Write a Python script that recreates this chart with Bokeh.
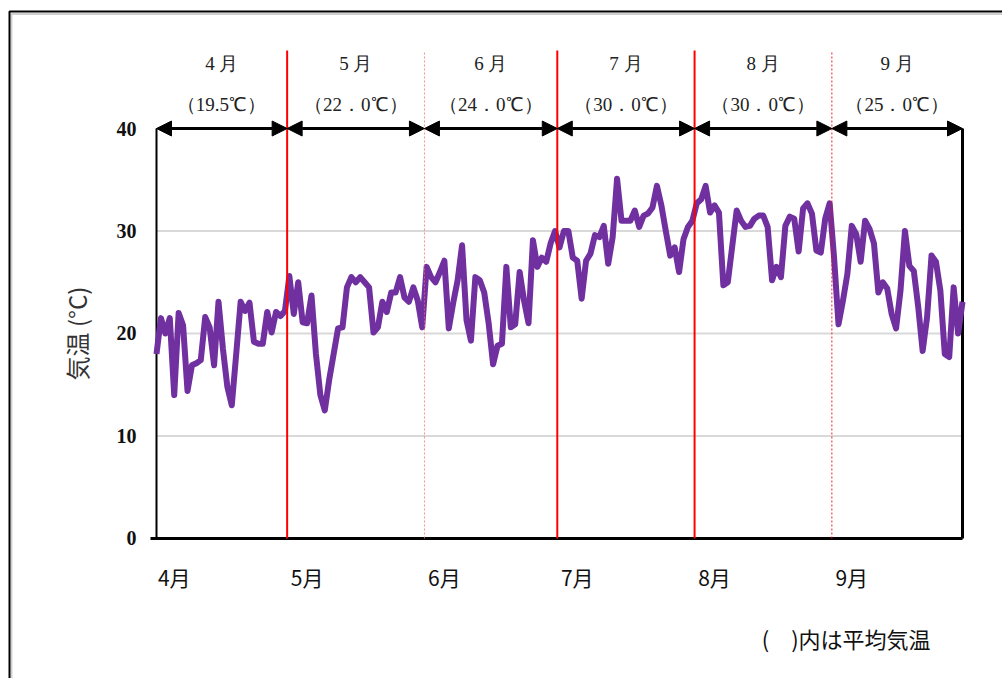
import math
from bokeh.plotting import figure
from bokeh.models import (Range1d, FixedTicker, ColumnDataSource, Arrow, NormalHead,
                          Label, BoxAnnotation)
from bokeh.core.properties import value
from bokeh.embed import file_html
from bokeh.resources import INLINE

# ---- data (daily temperature, Apr 1 - Sep 30) ----
apr = [18.0, 21.5, 20.0, 21.5, 14.0, 22.0, 20.8, 14.4, 16.9, 17.1, 17.4, 21.6, 20.6, 16.9, 23.1,
       18.5, 14.8, 13.0, 18.0, 23.1, 22.2, 23.0, 19.2, 19.0, 19.0, 22.1, 20.1, 22.1, 21.7, 22.2]
may = [25.6, 21.9, 25.0, 21.1, 21.0, 23.7, 18.0, 14.0, 12.5, 15.5, 18.0, 20.5, 20.6, 24.5, 25.5,
       25.0, 25.5, 25.0, 24.5, 20.1, 20.6, 23.1, 22.1, 24.0, 24.0, 25.5, 23.5, 23.1, 24.5, 23.2, 20.6]
jun = [26.5, 25.5, 25.0, 26.0, 27.1, 20.5, 23.0, 25.2, 28.6, 21.3, 19.3, 25.5, 25.2, 24.0, 21.0,
       17.0, 18.8, 19.0, 26.5, 20.6, 20.9, 26.0, 23.2, 21.0, 29.1, 26.5, 27.4, 27.0, 28.8, 30.0]
jul = [28.4, 30.0, 30.0, 27.4, 27.1, 23.4, 27.1, 27.8, 29.6, 29.4, 30.5, 26.8, 29.4, 35.1, 31.0,
       31.0, 31.0, 32.0, 30.4, 31.5, 31.7, 32.3, 34.4, 32.5, 30.0, 27.6, 28.4, 26.0, 29.2, 30.4, 31.0]
aug = [32.7, 33.1, 34.4, 31.8, 32.5, 31.8, 24.7, 25.0, 28.5, 32.0, 31.0, 30.4, 30.5, 31.2, 31.5,
       31.5, 30.4, 25.2, 26.5, 25.5, 30.5, 31.4, 31.2, 28.0, 32.2, 32.7, 31.7, 28.1, 27.9, 31.2, 32.7]
sep = [27.4, 20.9, 23.2, 25.8, 30.5, 29.7, 27.0, 31.0, 30.2, 28.8, 24.0, 25.0, 24.4, 21.9, 20.5,
       24.2, 30.0, 26.6, 26.1, 22.6, 18.3, 21.6, 27.6, 27.0, 24.2, 18.0, 17.7, 24.5, 20.0, 23.1]

month_ticks = ["4月", "5月", "6月", "7月", "8月", "9月"]
month_titles = ["4 月", "5 月", "6 月", "7 月", "8 月", "9 月"]
avg_temps = [19.5, 22.0, 24.0, 30.0, 30.0, 25.0]
avg_labels = ["（19.5℃）", "（22．0℃）", "（24．0℃）", "（30．0℃）", "（30．0℃）", "（25．0℃）"]
y_ticks = [0, 10, 20, 30, 40]
grid_vals = [10, 20, 30]
note_text = "(　)内は平均気温"
y_title = "気温 (°C)"

months = [apr, may, jun, jul, aug, sep]
temps = [t for m in months for t in m]
days = list(range(len(temps)))
last = days[-1]
starts = []
acc = 0
for m in months:
    starts.append(acc)
    acc += len(m)
bounds = [0] + [s - 0.5 for s in starts[1:]] + [last]
centers = [(bounds[i] + bounds[i + 1]) / 2 for i in range(6)]
y_top = y_ticks[-1]

PURPLE = "#7030A0"

p = figure(width=1002, height=678,
           x_range=Range1d(-35.226, 191.03), y_range=Range1d(-13.659, 52.488),
           output_backend="svg", toolbar_location=None, title=None,
           min_border=0, min_border_left=0, min_border_right=0,
           min_border_top=0, min_border_bottom=0)
p.outline_line_color = None
p.xgrid.grid_line_color = None
p.ygrid.grid_line_color = None

# y axis (drawn at x = day 0)
p.yaxis.fixed_location = 0
p.yaxis.ticker = FixedTicker(ticks=y_ticks)
p.yaxis.axis_line_color = None
p.yaxis.major_tick_line_color = None
p.yaxis.minor_tick_line_color = None
p.yaxis.major_tick_out = 0
p.yaxis.major_tick_in = 0
p.yaxis.major_label_standoff = 20
p.yaxis.major_label_text_font = "Liberation Serif"
p.yaxis.major_label_text_font_size = "20px"
p.yaxis.major_label_text_font_style = "bold"
p.yaxis.major_label_text_color = "#111111"

# x axis (drawn at y = 0)
tick_pos = [s + 4 for s in starts]
p.xaxis.fixed_location = 0
p.xaxis.ticker = FixedTicker(ticks=tick_pos)
p.xaxis.major_label_overrides = {t: lab for t, lab in zip(tick_pos, month_ticks)}
p.xaxis.axis_line_color = None
p.xaxis.major_tick_line_color = None
p.xaxis.minor_tick_line_color = None
p.xaxis.major_tick_out = 0
p.xaxis.major_tick_in = 0
p.xaxis.major_label_standoff = 24
p.xaxis.major_label_text_font = "Noto Sans CJK JP"
p.xaxis.major_label_text_font_size = "21px"
p.xaxis.major_label_text_color = "#111111"

# gridlines
p.segment(x0=[0] * len(grid_vals), x1=[last] * len(grid_vals), y0=grid_vals, y1=grid_vals,
          line_color="#d9d9d9", line_width=2)

# frame lines
p.segment(x0=[0], x1=[0], y0=[0], y1=[y_top], line_color="black", line_width=2)
p.segment(x0=[last], x1=[last], y0=[0], y1=[y_top], line_color="black", line_width=3)
p.segment(x0=[-1.355], x1=[last], y0=[0], y1=[0], line_color="black", line_width=3)

# temperature line
p.line(days, temps, line_color=PURPLE, line_width=6, line_join="round")

# month boundary lines
b_styles = [("red", 2, "solid", 1.0), ("#ff6666", 1, "2 2", 0.8), ("red", 2, "solid", 1.0),
            ("red", 2, "solid", 1.0), ("red", 1, "2 2", 0.9)]
for b, (c, w, d, a) in zip(bounds[1:-1], b_styles):
    p.segment(x0=[b], x1=[b], y0=[0], y1=[47.6], line_color=c, line_width=w,
              line_dash=d, line_alpha=a)

# double arrows at 40
for i in range(6):
    p.add_layout(Arrow(x_start=bounds[i], x_end=bounds[i + 1], y_start=y_top, y_end=y_top,
                       start=NormalHead(size=15, fill_color="black", line_color="black"),
                       end=NormalHead(size=15, fill_color="black", line_color="black"),
                       line_color="black", line_width=3))

src = ColumnDataSource(dict(x=centers, y=[y_top] * 6, m=month_titles, a=avg_labels))
p.text(x="x", y="y", text="m", source=src, y_offset=-65, text_align="center",
       text_baseline="middle", text_font=value("Liberation Serif"), text_font_size="19px",
       text_color="#222222")
p.text(x="x", y="y", text="a", source=src, y_offset=-24, text_align="center",
       text_baseline="middle", text_font=value("Liberation Serif"), text_font_size="19px",
       text_color="#222222")

# y axis title and note
p.add_layout(Label(x=-18.06, y=20, text=y_title, angle=math.pi / 2, text_align="center",
                   text_baseline="middle", text_font="Noto Sans CJK JP",
                   text_font_size="24px", text_color="#333333"))
p.add_layout(Label(x=174.8, y=-9.66, text=note_text, text_align="right",
                   text_baseline="middle", text_font="Noto Sans CJK JP",
                   text_font_size="22px", text_color="#111111"))

# outer frame
p.add_layout(BoxAnnotation(left=11, right=3000, top=13.5, bottom=3000,
                           left_units="canvas", right_units="canvas",
                           top_units="canvas", bottom_units="canvas",
                           fill_color=None, fill_alpha=0, line_color="#d0d0d0",
                           line_alpha=1.0, line_width=2))
p.add_layout(BoxAnnotation(left=9, right=3000, top=11, bottom=3000,
                           left_units="canvas", right_units="canvas",
                           top_units="canvas", bottom_units="canvas",
                           fill_color=None, fill_alpha=0, line_color="black",
                           line_alpha=1.0, line_width=2))

open("out.html", "w").write(file_html(p, INLINE))
